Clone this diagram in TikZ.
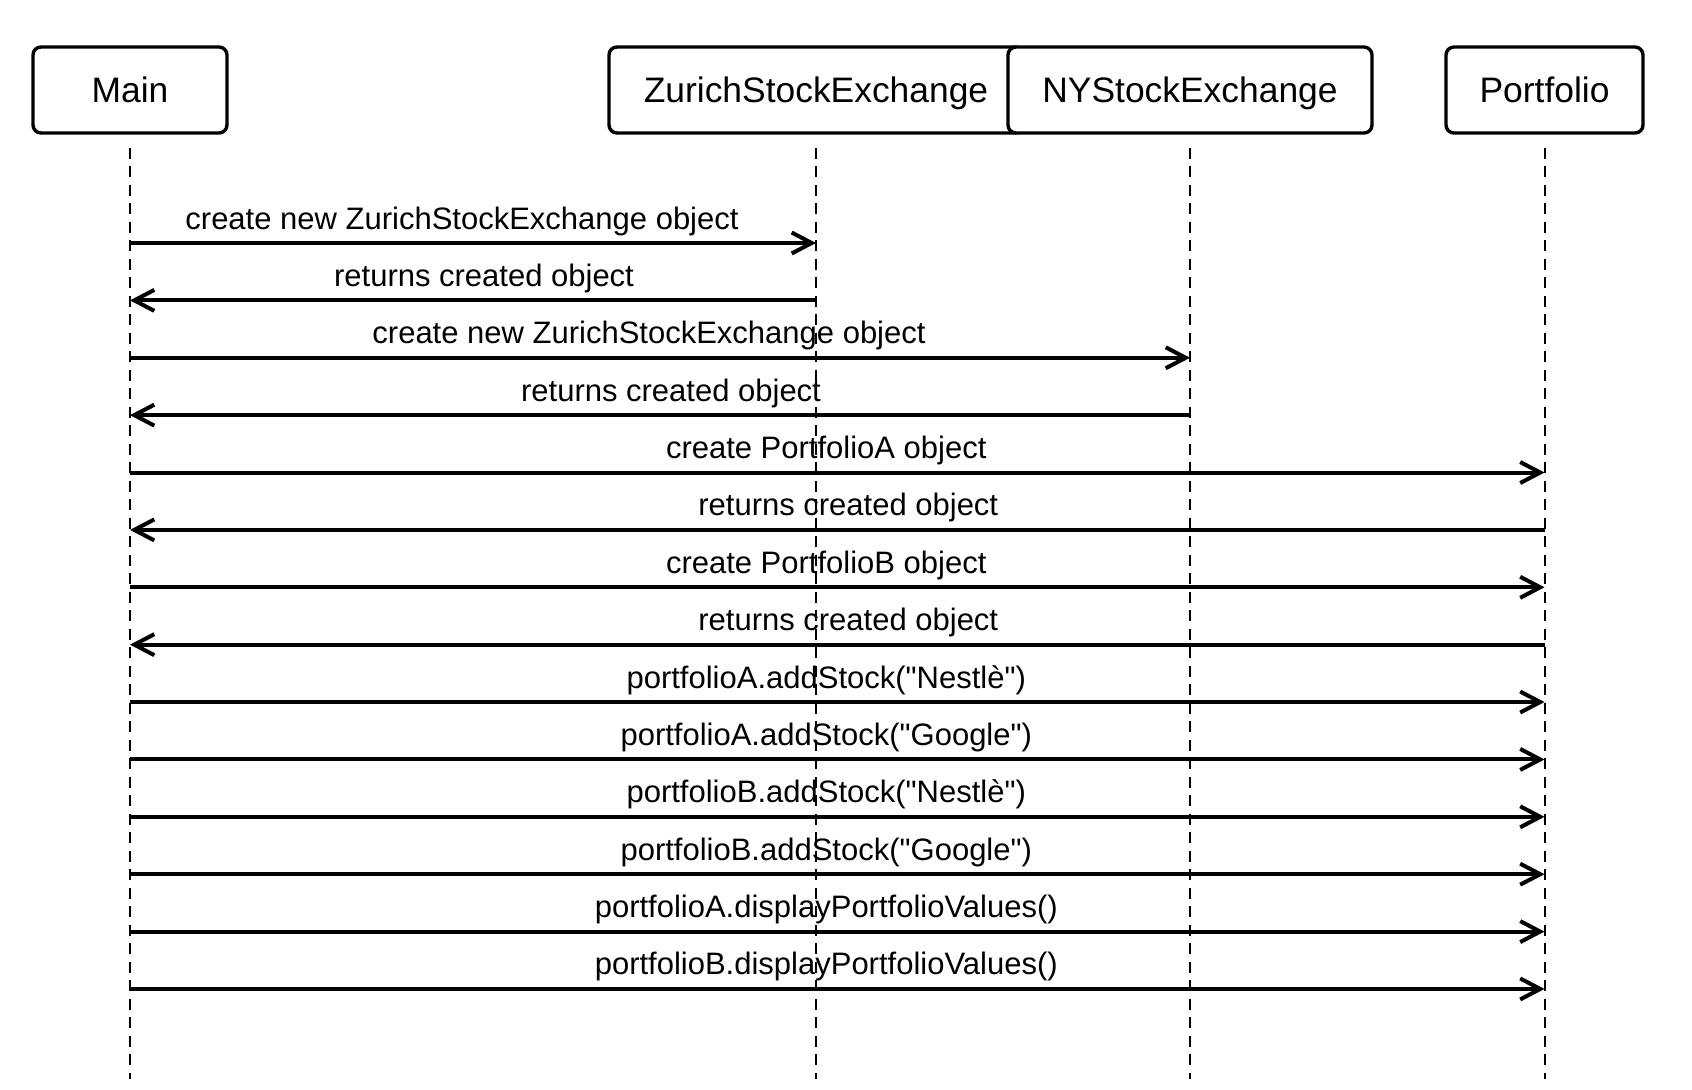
\documentclass[tikz,border=0pt]{standalone}
\usepackage{fontspec}
\setmainfont{Liberation Sans}[Ligatures=TeXOff]
\usetikzlibrary{arrows.meta}

\begin{document}
\begin{tikzpicture}[x=0.5pt, y=-0.5pt,
		head/.style={draw, line width=1.7pt, rounded corners=4pt, fill=white, inner sep=0pt, minimum height=43pt, text height=12.7pt, text depth=0pt, font=\fontsize{17.7}{21}\selectfont},
		lifeline/.style={line width=1pt, dash pattern=on 5.5pt off 3.75pt},
		msg/.style={line width=2pt, -{Straight Barb[length=10pt, width=10.5pt, line width=2pt]}},
		msglabel/.style={anchor=base, inner sep=0pt, yshift=7pt, font=\fontsize{15.5}{18}\selectfont},
		fwd/.style={msglabel, xshift=-5.5pt},
		back/.style={msglabel, xshift=5.5pt}]
			%%%%% START %%%%%
			
			\useasboundingbox (0, 0) rectangle (1692, 1089);
			
			\node[head, minimum width=207pt] (zse) at (816, 90) {ZurichStockExchange};
			\node[head, minimum width=182pt] (nyse) at (1190, 90) {NYStockExchange};
			\node[head, minimum width=97pt] (main) at (130, 90) {Main};
			\node[head, minimum width=98.5pt] (pf) at (1544.5, 90) {Portfolio};
			
			\coordinate (bottom) at (0, 1079);
			\foreach \n in {main, zse, nyse, pf}
				\draw[lifeline] ([yshift=-6.5pt]\n.south) -- (\n |- bottom);
			
			\foreach \i in {1,...,14}
				\coordinate (r\i) at (0, {243 + 57.38*(\i - 1)});
			
			\draw[msg] (main |- r1) -- node[fwd] {create new ZurichStockExchange object} (zse |- r1);
			\draw[msg] (zse |- r2) -- node[back] {returns created object} (main |- r2);
			\draw[msg] (main |- r3) -- node[fwd] {create new ZurichStockExchange object} (nyse |- r3);
			\draw[msg] (nyse |- r4) -- node[back] {returns created object} (main |- r4);
			\draw[msg] (main |- r5) -- node[fwd] {create PortfolioA object} (pf |- r5);
			\draw[msg] (pf |- r6) -- node[back] {returns created object} (main |- r6);
			\draw[msg] (main |- r7) -- node[fwd] {create PortfolioB object} (pf |- r7);
			\draw[msg] (pf |- r8) -- node[back] {returns created object} (main |- r8);
			\draw[msg] (main |- r9) -- node[fwd] {portfolioA.addStock("Nestlè")} (pf |- r9);
			\draw[msg] (main |- r10) -- node[fwd] {portfolioA.addStock("Google")} (pf |- r10);
			\draw[msg] (main |- r11) -- node[fwd] {portfolioB.addStock("Nestlè")} (pf |- r11);
			\draw[msg] (main |- r12) -- node[fwd] {portfolioB.addStock("Google")} (pf |- r12);
			\draw[msg] (main |- r13) -- node[fwd] {portfolioA.displayPortfolioValues()} (pf |- r13);
			\draw[msg] (main |- r14) -- node[fwd] {portfolioB.displayPortfolioValues()} (pf |- r14);
			
			%%%%% END %%%%%
		\end{tikzpicture}
\end{document}
